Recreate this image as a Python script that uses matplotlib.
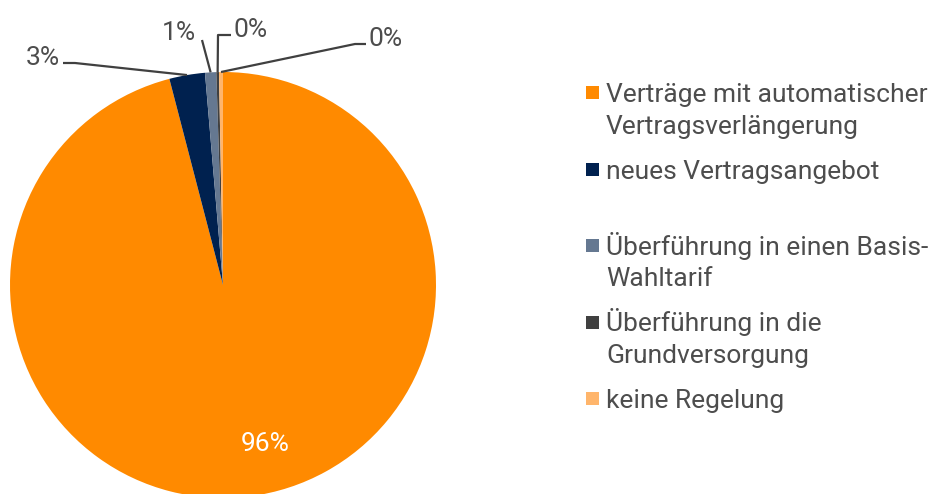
import matplotlib
matplotlib.use("Agg")
import matplotlib.pyplot as plt
from matplotlib.patches import Rectangle
import numpy as np

categories = ["Verträge mit automatischer\nVertragsverlängerung",
              "neues Vertragsangebot",
              "Überführung in einen Basis-\nWahltarif",
              "Überführung in die\nGrundversorgung",
              "keine Regelung"]
values = [95.95, 2.7, 0.85, 0.2, 0.3]
pct_labels = ["96%", "3%", "1%", "0%", "0%"]
colors = ["#FF8A00", "#00214F", "#657891", "#404040", "#FFB56B"]

W, H = 941, 494
plt.rcParams['font.family'] = ['Roboto', 'DejaVu Sans']
TXT = "#4d4d4d"
FS = 19
FW = "normal"

fig = plt.figure(figsize=(W / 100, H / 100), dpi=100)
ax = fig.add_axes([0, 0, 1, 1])

def Y(y):
    return H - y

cx, cy, r = 223, Y(285), 213
wedges, _ = ax.pie(values, colors=colors, startangle=90, counterclock=False,
                   center=(cx, cy), radius=r,
                   wedgeprops=dict(linewidth=0))
ax.set_xlim(0, W)
ax.set_ylim(0, H)
ax.set_aspect('equal')
ax.axis('off')

# big label inside
ax.text(265, Y(444), pct_labels[0], color="white", fontsize=FS,
        fontweight=FW, ha="center", va="center")

# leader lines: (elbow, end, text x, text baseline, ha)
leaders = {
    1: ((75, 63), (63, 63), 60, 65, "right"),
    2: ((202, 40), (202, 40), 196, 40, "right"),
    3: ((218, 35), (231, 35), 234, 37, "left"),
    4: ((355, 44), (366, 44), 369, 46, "left"),
}
for i, (elbow, end, tx, ty, ha) in leaders.items():
    w = wedges[i]
    th = np.deg2rad((w.theta1 + w.theta2) / 2)
    ex, ey = cx + r * np.cos(th), cy + r * np.sin(th)
    ax.plot([ex, elbow[0], end[0]], [ey, Y(elbow[1]), Y(end[1])],
            color="#404040", lw=1.6, solid_capstyle="butt")
    ax.text(tx, Y(ty), pct_labels[i], color=TXT, fontsize=FS,
            fontweight=FW, ha=ha, va="baseline")

# legend
y0 = 102
step = 76.5
pitch = 31.5
for i, (lab, col) in enumerate(zip(categories, colors)):
    yb = y0 + i * step
    ax.add_patch(Rectangle((586, Y(yb - 3)), 13, 13, color=col, lw=0))
    for j, line in enumerate(lab.split("\n")):
        ax.text(606, Y(yb + j * pitch), line, color=TXT, fontsize=FS,
                fontweight=FW, ha="left", va="baseline")

fig.savefig("out.png", dpi=100)
